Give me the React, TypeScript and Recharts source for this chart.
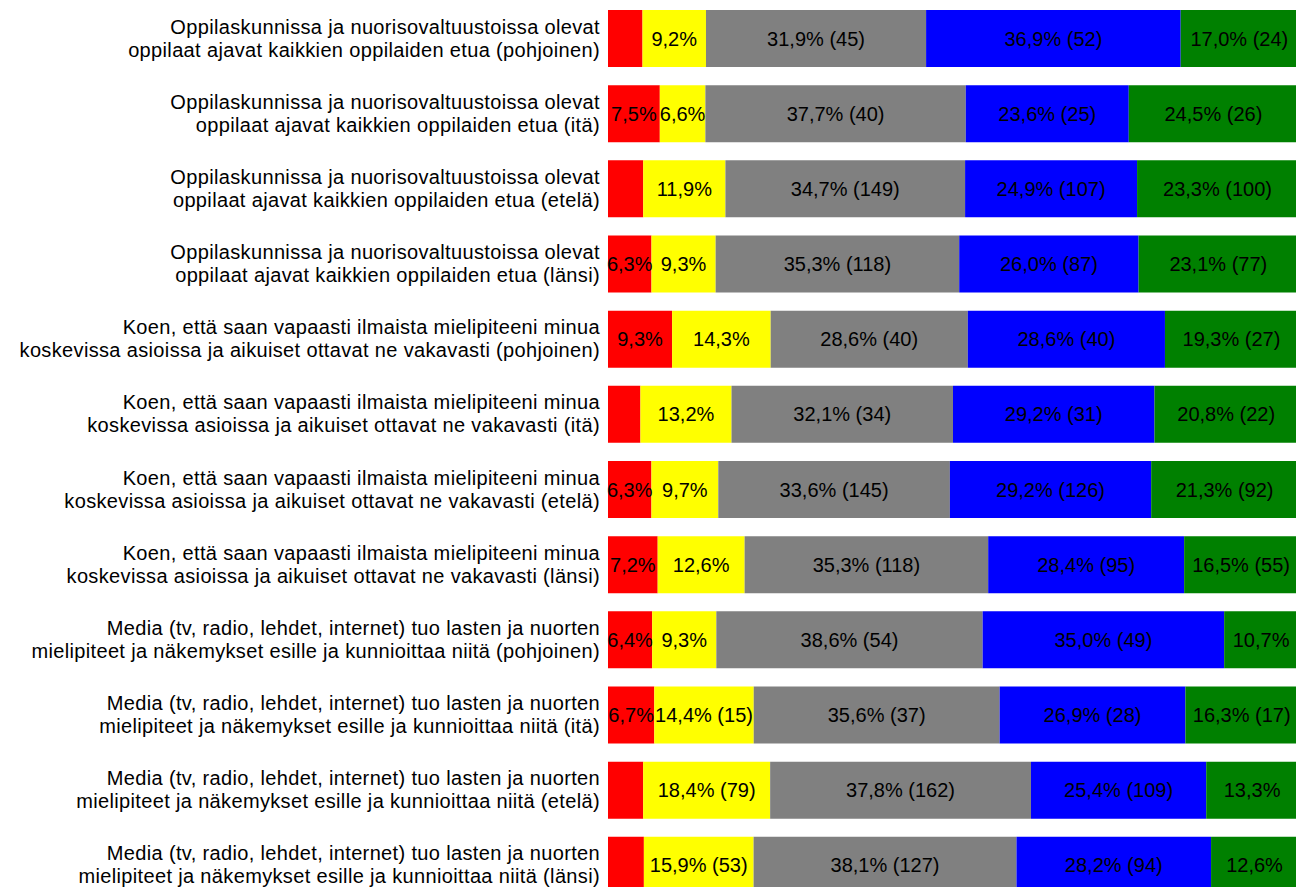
import { BarChart, Bar, XAxis, YAxis } from "recharts";

const categories = [
  "Oppilaskunnissa ja nuorisovaltuustoissa olevat|oppilaat ajavat kaikkien oppilaiden etua (pohjoinen)",
  "Oppilaskunnissa ja nuorisovaltuustoissa olevat|oppilaat ajavat kaikkien oppilaiden etua (itä)",
  "Oppilaskunnissa ja nuorisovaltuustoissa olevat|oppilaat ajavat kaikkien oppilaiden etua (etelä)",
  "Oppilaskunnissa ja nuorisovaltuustoissa olevat|oppilaat ajavat kaikkien oppilaiden etua (länsi)",
  "Koen, että saan vapaasti ilmaista mielipiteeni minua|koskevissa asioissa ja aikuiset ottavat ne vakavasti (pohjoinen)",
  "Koen, että saan vapaasti ilmaista mielipiteeni minua|koskevissa asioissa ja aikuiset ottavat ne vakavasti (itä)",
  "Koen, että saan vapaasti ilmaista mielipiteeni minua|koskevissa asioissa ja aikuiset ottavat ne vakavasti (etelä)",
  "Koen, että saan vapaasti ilmaista mielipiteeni minua|koskevissa asioissa ja aikuiset ottavat ne vakavasti (länsi)",
  "Media (tv, radio, lehdet, internet) tuo lasten ja nuorten|mielipiteet ja näkemykset esille ja kunnioittaa niitä (pohjoinen)",
  "Media (tv, radio, lehdet, internet) tuo lasten ja nuorten|mielipiteet ja näkemykset esille ja kunnioittaa niitä (itä)",
  "Media (tv, radio, lehdet, internet) tuo lasten ja nuorten|mielipiteet ja näkemykset esille ja kunnioittaa niitä (etelä)",
  "Media (tv, radio, lehdet, internet) tuo lasten ja nuorten|mielipiteet ja näkemykset esille ja kunnioittaa niitä (länsi)",
];

// percentages per answer group
const red = [5.0, 7.5, 5.1, 6.3, 9.3, 4.7, 6.3, 7.2, 6.4, 6.7, 5.1, 5.2];
const yellow = [9.2, 6.6, 11.9, 9.3, 14.3, 13.2, 9.7, 12.6, 9.3, 14.4, 18.4, 15.9];
const gray = [31.9, 37.7, 34.7, 35.3, 28.6, 32.1, 33.6, 35.3, 38.6, 35.6, 37.8, 38.1];
const blue = [36.9, 23.6, 24.9, 26.0, 28.6, 29.2, 29.2, 28.4, 35.0, 26.9, 25.4, 28.2];
const green = [17.0, 24.5, 23.3, 23.1, 19.3, 20.8, 21.3, 16.5, 10.7, 16.3, 13.3, 12.6];

// counts shown in the labels (null = not shown)
const redN: (number | null)[] = [null, null, null, null, null, null, null, null, null, null, null, null];
const yellowN: (number | null)[] = [null, null, null, null, null, null, null, null, null, 15, 79, 53];
const grayN: (number | null)[] = [45, 40, 149, 118, 40, 34, 145, 118, 54, 37, 162, 127];
const blueN: (number | null)[] = [52, 25, 107, 87, 40, 31, 126, 95, 49, 28, 109, 94];
const greenN: (number | null)[] = [24, 26, 100, 77, 27, 22, 92, 55, null, 17, null, null];

const data = categories.map((name, i) => ({
  name,
  red: red[i],
  yellow: yellow[i],
  gray: gray[i],
  blue: blue[i],
  green: green[i],
}));

const FONT = "'Liberation Sans', Arial, sans-serif";

const fmt = (v: number) => v.toFixed(1).replace(".", ",") + "%";

const makeLabel = (pct: number[], cnt: (number | null)[]) => (p: any) => {
  const i = p.index;
  const v = pct[i];
  if (v == null || v < 6) return <g />;
  const n = cnt[i];
  const txt = fmt(v) + (n != null ? ` (${n})` : "");
  return (
    <text
      x={p.x + p.width / 2}
      y={p.y + p.height / 2 + 7}
      textAnchor="middle"
      fontSize={20}
      fontFamily={FONT}
      fill="#000"
    >
      {txt}
    </text>
  );
};

const CategoryTick = (props: any) => {
  const { x, y, payload } = props;
  const lines = String(payload.value).split("|");
  return (
    <text x={x} y={y} textAnchor="end" fontSize={20} fontFamily={FONT} fill="#000" letterSpacing={0.35}>
      <tspan x={x} dy={-5}>{lines[0]}</tspan>
      <tspan x={x} dy={23}>{lines[1]}</tspan>
    </text>
  );
};

const App = () => {
  return (
    <div
      style={{
        position: "absolute",
        left: 0,
        top: 0,
        width: 1296,
        height: 887,
        overflow: "hidden",
        background: "#fff",
        fontFamily: FONT,
      }}
    >
      <BarChart
        width={1298}
        height={903}
        data={data}
        layout="vertical"
        stackOffset="expand"
        barCategoryGap="12%"
        margin={{ top: 1, right: 0, bottom: 0, left: 0 }}
      >
        <XAxis type="number" hide domain={[0, 1]} />
        <YAxis
          type="category"
          dataKey="name"
          width={608}
          axisLine={false}
          tickLine={false}
          tick={<CategoryTick />}
          interval={0}
        />
        <Bar dataKey="red" stackId="a" fill="#FF0000" isAnimationActive={false} label={makeLabel(red, redN)} />
        <Bar dataKey="yellow" stackId="a" fill="#FFFF00" isAnimationActive={false} label={makeLabel(yellow, yellowN)} />
        <Bar dataKey="gray" stackId="a" fill="#808080" isAnimationActive={false} label={makeLabel(gray, grayN)} />
        <Bar dataKey="blue" stackId="a" fill="#0000FF" isAnimationActive={false} label={makeLabel(blue, blueN)} />
        <Bar dataKey="green" stackId="a" fill="#008000" isAnimationActive={false} label={makeLabel(green, greenN)} />
      </BarChart>
    </div>
  );
};

export default App;
